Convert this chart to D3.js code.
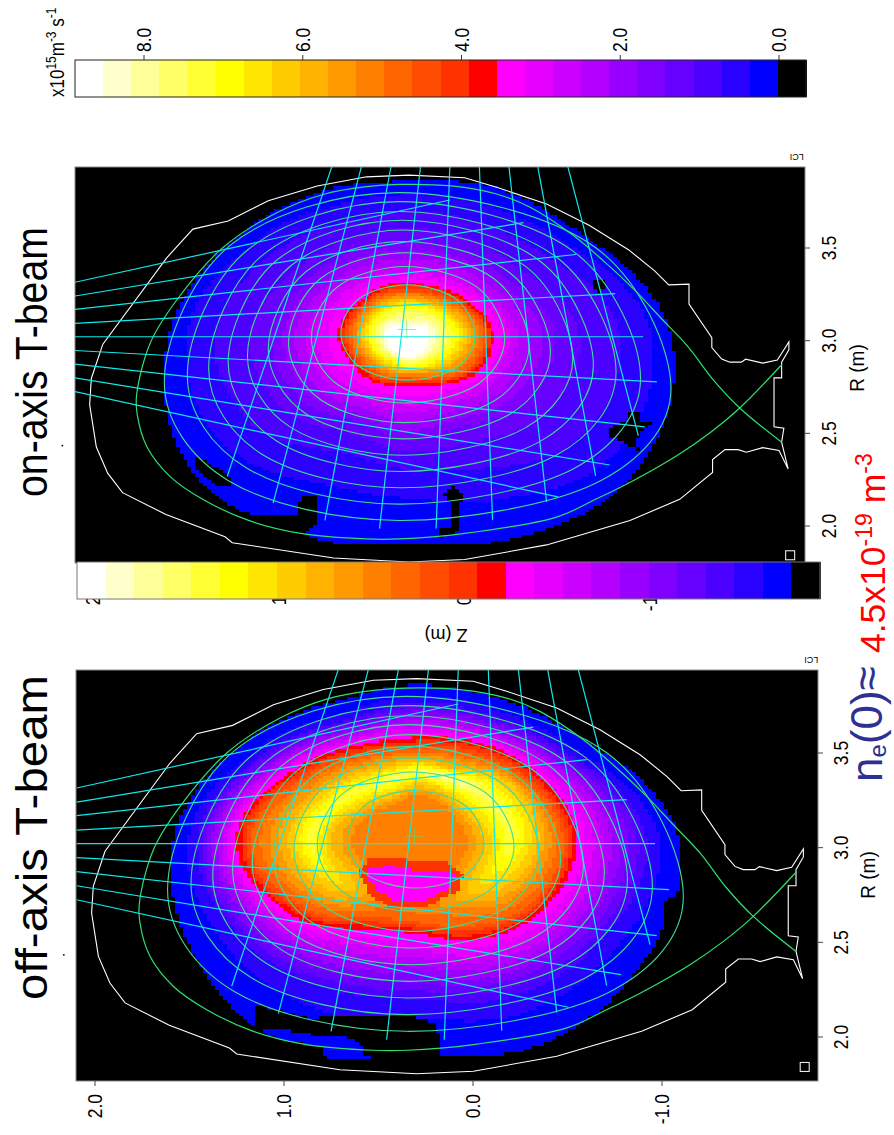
<!DOCTYPE html>
<html><head><meta charset="utf-8">
<style>html,body{margin:0;padding:0;background:#fff}svg{display:block}text{font-family:"Liberation Sans",Arial,sans-serif}</style>
<script src="https://cdn.jsdelivr.net/npm/d3@7"></script>
</head><body><svg id="c" width="894" height="1135"></svg>
<script>
// ---------- colour scale ----------
const bandColors=["#000000","#0000ff","#2a00ff","#4c00ff","#6600ff","#8000ff","#9900ff","#b300ff","#cc00ff","#e600ff","#ff00ff",
"#ff0000","#ff3300","#ff4c00","#ff6600","#ff8000","#ff9900","#ffb300","#ffcc00","#ffe600","#ffff00","#ffff33","#ffff66","#ffff99","#ffffcc","#ffffff"];
const bandStep=0.354;
const barTicks=[0,2,4,6,8];
const zTicks=[2,1,0,-1];
const rTicks=[3.5,3,2.5,2];
// ---------- shared geometry (R,Z in metres) ----------
const axisZ=0.31, axisR=3.05;
const wallRZ=[[2.308,-1.744],[2.408,-1.695],[2.423,-1.607],[2.398,-1.519],[2.412,-1.474],[2.412,-1.404],[2.359,-1.337],[2.289,-1.337],[2.144,-1.160],[2.030,-.892],[1.898,-.443],[1.819,-.002],[1.806,.298],[1.827,.704],[1.910,1.250],[1.942,1.289],[2.062,1.607],[2.180,1.841],[2.285,1.921],[2.426,1.982],[2.655,2.018],[2.796,2.009],[2.981,1.947],[3.447,1.603],[3.602,1.462],[3.646,1.272],[3.755,1.056],[3.835,.792],[3.884,.527],[3.893,.298],[3.879,-.002],[3.826,-.178],[3.738,-.443],[3.623,-.672],[3.491,-.884],[3.377,-1.025],[3.301,-1.101],[3.305,-1.210],[3.197,-1.210],[3.016,-1.333],[2.963,-1.333],[2.901,-1.386],[2.884,-1.430],[2.884,-1.492],[2.900,-1.515],[2.879,-1.607],[2.896,-1.686],[2.993,-1.748],[2.951,-1.748],[2.884,-1.709],[2.799,-1.709],[2.799,-1.668],[2.535,-1.668],[2.528,-1.721],[2.452,-1.709],[2.308,-1.744]];
const lcfsRZ=[[2.452,-1.709],[2.637,-1.483],[2.787,-1.342],[2.972,-1.201],[3.121,-1.060],[3.271,-.919],[3.421,-.760],[3.570,-.584],[3.720,-.354],[3.790,-.178],[3.835,.069],[3.843,.351],[3.831,.527],[3.790,.757],[3.685,1.021],[3.500,1.303],[3.218,1.550],[2.989,1.691],[2.708,1.765],[2.602,1.762],[2.426,1.709],[2.268,1.586],[2.144,1.409],[2.030,1.162],[1.960,.880],[1.930,.527],[1.930,.351],[1.960,-.002],[2.048,-.496],[2.144,-.707],[2.250,-.919],[2.382,-1.148],[2.505,-1.325],[2.637,-1.483],[2.870,-1.709]];
const surface1=[[2.778,1.616],[3.514,1.261],[3.799,.351],[3.504,-.704],[2.743,-1.113],[2.229,-.704],[2.030,.351],[2.239,1.261]];
const surface2=[[2.813,1.492],[3.488,1.169],[3.750,.342],[3.482,-.587],[2.796,-.949],[2.308,-.586],[2.118,.351],[2.313,1.173]];
const surface3=[[2.849,1.377],[3.460,1.088],[3.697,.342],[3.454,-.492],[2.831,-.817],[2.380,-.492],[2.206,.342],[2.386,1.088]];
const surface4=[[2.884,1.272],[3.435,1.009],[3.650,.333],[3.430,-.407],[2.866,-.695],[2.454,-.404],[2.294,.342],[2.459,1.011]];
const surface5=[[2.919,1.168],[3.407,.931],[3.597,.325],[3.401,-.330],[2.901,-.584],[2.528,-.326],[2.382,.333],[2.532,.935]];
const surface6=[[2.954,1.056],[3.373,.852],[3.535,.325],[3.368,-.243],[2.937,-.464],[2.600,-.240],[2.470,.333],[2.606,.854]];
const surface7=[[2.989,.947],[3.338,.771],[3.474,.316],[3.333,-.162],[2.972,-.349],[2.674,-.160],[2.558,.325],[2.680,.772]];
const surface8=[[3.016,.824],[3.292,.681],[3.400,.316],[3.290,-.067],[3.007,-.217],[2.761,-.067],[2.664,.316],[2.762,.681]];
const surface9=[[3.042,.665],[3.229,.564],[3.301,.307],[3.224,.044],[3.025,-.058],[2.854,.044],[2.787,.307],[2.859,.564]];
const surfaces=[surface1,surface2,surface3,surface4,surface5,surface6,surface7,surface8,surface9];
// sight lines: [R0,Z0,R1,Z1]
const fanA=[[3.315,2.097,3.759,.078],[3.241,2.097,3.637,-.319],[3.169,2.097,3.465,-.601],[3.093,2.097,3.254,-.813],[3.021,2.097,3.021,-.963],[2.947,2.097,2.778,-1.037],[2.873,2.097,2.535,-.972],[2.799,2.097,2.329,-.783],[2.725,2.097,2.157,-.504]];
const fanB=[[3.94,.713,2.268,1.277],[3.94,.554,2.123,1.030],[3.94,.395,2.030,.751],[3.94,.236,1.986,.457],[3.94,.078,1.986,.152],[3.94,-.081,2.033,-.152],[3.94,-.240,2.130,-.443],[3.94,-.395,2.271,-.707],[3.94,-.557,2.488,-.937]];
const markerSquare=[1.842,-1.755];
const markerDot=[2.434,2.165];
const lciLabel=[3.988,-1.79];
// ---------- emissivity fields, rings around axis, rays every 30 deg from +Z towards +R ----------
const offRadii=[
[1.287,1.041,.847,.820,.864,1.041,1.393,1.358,1.261,1.129,1.279,1.323],
[1.173,.935,.741,.741,.776,.935,1.243,1.129,.988,.864,.935,1.076],
[.952,.741,.582,.541,.600,.723,.847,.758,.608,.494,.547,.776],
[.873,.670,.520,.485,.529,.653,.776,.688,.529,.432,.476,.697],
[.679,.547,.432,.414,.432,.582,.644,.547,.423,.406,.414,.564],
[.556,.441,.353,.362,.370,.441,.503,.423,.370,.379,.353,.459],
[.450,.335,.273,.291,.300,.309,.353,.317,.300,.300,.282,.353],
[.291,.247,.203,.220,.212,.212,.229,.220,.212,.194,.203,.256]];
const offValues=[
[0,0,0,0,0,0,0,0,0,0,0,0],
[.5,.5,.5,.5,.5,.5,.5,.5,.5,.5,.5,.5],
[3.54,3.54,3.54,3.54,3.54,3.54,3.54,3.54,3.54,3.54,3.54,3.54],
[4.6,4.6,4.6,4.6,4.6,4.6,4.6,4.6,4.6,4.6,4.6,4.6],
[6,6,6,6,6,6,6,5.8,5.2,4.8,5,5.8],
[7.3,7.3,7.5,7.6,8.0,7.6,7.4,6.6,5.6,5.0,5.3,6.4],
[6,6,6.2,6.2,6.3,6.2,6,5.8,5.3,4.8,5,5.8],
[5,5,5,5,5,5,5,5,5,4.8,4.8,5]];
const offCenter=5.3;
const onRadii=[
[1.288,1.054,.890,.820,.910,1.072,1.409,1.441,1.261,1.135,1.252,1.387],
[1.153,.937,.757,.721,.757,.937,1.261,1.225,.937,.793,.811,1.081],
[.775,.631,.559,.523,.559,.631,.829,.775,.613,.604,.577,.721],
[.564,.468,.387,.360,.387,.468,.595,.541,.450,.441,.441,.532],
[.378,.324,.288,.270,.288,.360,.454,.423,.324,.294,.315,.351],
[.324,.279,.243,.225,.243,.310,.400,.369,.279,.243,.267,.297],
[.204,.180,.153,.144,.153,.198,.247,.225,.189,.180,.171,.189],
[.122,.090,.055,.030,.055,.090,.110,.118,.130,.130,.130,.125]];
const onValues=[
[0,0,0,0,0,0,0,0,0,0,0,0],
[.5,.5,.5,.5,.5,.5,.5,.5,.5,.5,.5,.5],
[1.2,1.2,1.2,1.2,1.2,1.2,1.2,1.2,1.2,1.2,1.2,1.2],
[2.4,2.4,2.4,2.4,2.4,2.4,2.4,2.4,2.4,2.4,2.4,2.4],
[3.54,3.54,3.54,3.54,3.54,3.54,3.54,3.54,3.54,3.54,3.54,3.54],
[4.6,4.6,4.6,4.6,4.6,4.6,4.6,4.6,4.6,4.6,4.6,4.6],
[7,7,7,7,7,7,7,7,7,7,7,7],
[8.5,8.5,8.5,8.5,8.5,8.5,8.5,8.5,8.5,8.5,8.5,8.5]];
const onCenter=9.2;
// patches [value, polygon of [Z,R]]
const offPocketRed=[[.616,2.884],[.554,2.954],[.351,2.945],[.139,2.928],[.065,2.866],[.086,2.778],[.263,2.699],[.439,2.690],[.554,2.752]];
const offPocketMagenta=[[.577,2.901],[.439,2.915],[.298,2.884],[.122,2.884],[.104,2.845],[.148,2.787],[.263,2.734],[.422,2.725],[.519,2.787],[.571,2.849]];
const offGap=[[1.162,2.180],[.845,2.100],[.774,2.127],[.333,2.118],[.210,2.083],[.192,2.004],[.183,1.907],[.589,1.916],[.589,1.960],[.695,2.021],[.854,2.021],[1.004,2.048],[1.100,2.048],[1.162,2.067]];
const offBelow=[[1.162,2.067],[1.100,2.026],[1.004,1.979],[.801,1.961],[.801,1.873],[1.409,1.873],[1.409,2.162]];
const offNotch=[[-.993,2.708],[-1.042,2.752],[-1.104,2.752],[-1.104,2.567],[-1.025,2.585],[-.993,2.646]];
const onHoleA=[[1.207,2.079],[1.108,2.070],[.910,2.070],[.910,2.124],[.865,2.178],[.793,2.178],[.793,2.043],[.838,1.989],[.865,1.971],[.793,1.926],[.793,1.854],[1.396,1.854],[1.396,2.160]];
const onHoleB=[[.117,2.178],[.072,2.218],[.013,2.178],[.031,2.124],[.036,2.016],[.054,1.962],[.135,1.953],[.144,1.989],[.090,1.998],[.090,2.124]];
const onHoleC=[[-.667,3.320],[-.694,3.338],[-.748,3.338],[-.751,3.293],[-.712,3.266],[-.685,3.284]];
const onHoleD=[[-.766,2.538],[-.865,2.574],[-.874,2.628],[-.928,2.628],[-.946,2.574],[-1.0,2.565],[-.946,2.520],[-.910,2.448],[-.928,2.421],[-.874,2.430],[-.847,2.466],[-.775,2.484]];
const onHoleE=[[1.468,2.385],[1.288,2.295],[1.252,2.214],[1.351,2.232],[1.459,2.322]];
const offPatches=[[4.2,offPocketRed],[3.3,offPocketMagenta],[0,offGap],[0,offBelow],[0,offNotch]];
const onPatches=[[0,onHoleA],[0,onHoleB],[0,onHoleC],[0,onHoleD],[0,onHoleE]];

// ---------- helpers ----------
const svg=d3.select("#c");
const fmt=d=>d.toFixed(1);
function cr(a,j,t){const n=a.length,p0=a[(j+n-1)%n],p1=a[j%n],p2=a[(j+1)%n],p3=a[(j+2)%n];
 return .5*(2*p1+(p2-p0)*t+(2*p0-5*p1+4*p2-p3)*t*t+(3*p1-p0-3*p2+p3)*t*t*t);}
function field(Z,R,radii,vals,center,patches){
 for(let i=patches.length-1;i>=0;i--){ if(d3.polygonContains(patches[i][1],[Z,R])) return patches[i][0]; }
 const dz=Z-axisZ,dr=R-axisR,r=Math.hypot(dz,dr);
 let th=Math.atan2(dr,dz)*180/Math.PI; if(th<0)th+=360;
 const j=Math.floor(th/30),t=th/30-j;
 let prevR=null,prevV=null;
 for(let k=0;k<radii.length;k++){
  const rk=cr(radii[k],j,t),vk=cr(vals[k],j,t);
  if(r>=rk){ if(k===0) return 0; return vk+(prevV-vk)*(r-rk)/(prevR-rk); }
  prevR=rk;prevV=vk;
 }
 return center+(prevV-center)*r/prevR;
}
function band(v){ if(v<=0) return 0; return Math.min(bandColors.length-1,1+Math.floor(v/bandStep)); }

function panel(o){
 const z=d3.scaleLinear().domain([2,-1]).range(o.zRange);
 const r=d3.scaleLinear().domain([3.5,2]).range(o.rRange);
 const g=svg.append("g");
 const id=o.id;
 svg.append("defs").append("clipPath").attr("id",id).append("rect").attr("x",o.x0).attr("y",o.y0).attr("width",o.x1-o.x0).attr("height",o.y1-o.y0);
 g.append("rect").attr("x",o.x0).attr("y",o.y0).attr("width",o.x1-o.x0).attr("height",o.y1-o.y0).attr("fill","#000").attr("stroke","#8a8a8a").attr("stroke-width",1);
 // cells
 const zs=d3.range(2.0,-1.3,-0.0212), rs=d3.range(3.92,1.85,-0.0174);
 const paths=bandColors.map(()=>[]);
 zs.forEach(Z=>rs.forEach(R=>{
  const b=band(field(Z,R,o.radii,o.vals,o.center,o.patches));
  if(!b) return;
  const x=Math.round(z(Z)),w=Math.round(z(Z-0.0212))-x,y=Math.round(r(R)),h=Math.round(r(R-0.0174))-y;
  paths[b].push(`M${x} ${y}h${w}v${h}h${-w}z`);
 }));
 const gc=g.append("g").attr("clip-path",`url(#${id})`);
 gc.selectAll("path.cell").data(paths).join("path").attr("class","cell").attr("d",d=>d.join("")).attr("fill",(d,i)=>bandColors[i]).attr("shape-rendering","crispEdges");
 const line=d3.line().x(d=>z(d[1])).y(d=>r(d[0]));
 const closed=d3.line().x(d=>z(d[1])).y(d=>r(d[0])).curve(d3.curveCardinalClosed.tension(0));
 const smooth=d3.line().x(d=>z(d[1])).y(d=>r(d[0])).curve(d3.curveCatmullRom.alpha(.5));
 gc.selectAll("path.wall").data([wallRZ]).join("path").attr("class","wall").attr("d",line).attr("fill","none").attr("stroke","#fff").attr("stroke-width",1.1);
 gc.selectAll("path.surf").data(surfaces).join("path").attr("class","surf").attr("d",closed).attr("fill","none").attr("stroke","#3fdc95").attr("stroke-width",1.1);
 gc.append("path").datum(lcfsRZ).attr("d",smooth).attr("fill","none").attr("stroke","#2fe06f").attr("stroke-width",1.2);
 gc.selectAll("line.fan").data(fanA.concat(fanB)).join("line").attr("class","fan")
  .attr("x1",d=>z(d[1])).attr("y1",d=>r(d[0])).attr("x2",d=>z(d[3])).attr("y2",d=>r(d[2]))
  .attr("stroke","#12e8e8").attr("stroke-width",1.2);
 // axis cross
 const ax=z(axisZ), ay=r(axisR+.01);
 gc.append("path").attr("d",`M${ax-9} ${ay}H${ax+9}M${ax} ${ay-9}V${ay+9}`).attr("stroke","#55dd77").attr("stroke-opacity",.6).attr("fill","none");
 // corner square
 gc.append("rect").attr("x",z(markerSquare[1])-4.5).attr("y",r(markerSquare[0])-4.5).attr("width",9).attr("height",9).attr("fill","none").attr("stroke","#fff");
 svg.append("circle").attr("cx",z(markerDot[1])).attr("cy",r(markerDot[0])).attr("r",.9).attr("fill","#000");
 // LCI label
 svg.append("text").attr("transform",`translate(${z(lciLabel[1])},${r(lciLabel[0])}) rotate(180)`).attr("text-anchor","middle").attr("font-size",9).attr("dy","0.35em").text("LCI");
 // ticks
 svg.selectAll(null).data(zTicks).join("line").attr("x1",d=>z(d)).attr("x2",d=>z(d)).attr("y1",o.y1).attr("y2",o.y1+5).attr("stroke","#444");
 svg.selectAll(null).data(rTicks).join("line").attr("y1",d=>r(d)).attr("y2",d=>r(d)).attr("x1",o.x1).attr("x2",o.x1+5).attr("stroke","#444");
 svg.selectAll(null).data(zTicks).join("text").attr("transform",d=>`translate(${z(d)+7},${o.zLabY}) rotate(-90) scale(1,1.18)`).attr("text-anchor","end").attr("font-size",17.5).text(fmt);
 svg.selectAll(null).data(rTicks).join("text").attr("transform",d=>`translate(${o.rLabX},${r(d)}) rotate(-90) scale(1,1.18)`).attr("text-anchor","middle").attr("font-size",17.5).text(fmt);
 svg.append("text").attr("transform",`translate(${o.rTitle[0]},${o.rTitle[1]}) rotate(-90) scale(1,1.1)`).attr("text-anchor","middle").attr("font-size",19).text("R (m)");
}
function bar(o){
 const b=d3.scaleBand().domain(d3.range(bandColors.length).reverse()).range([o.x0,o.x1]);
 svg.selectAll(null).data(b.domain()).join("rect").attr("x",d=>b(d)).attr("y",o.y0).attr("width",b.bandwidth()+.5).attr("height",o.y1-o.y0).attr("fill",d=>bandColors[d]).attr("shape-rendering","crispEdges");
 svg.append("rect").attr("x",o.x0).attr("y",o.y0).attr("width",o.x1-o.x0).attr("height",o.y1-o.y0).attr("fill","none").attr("stroke",o.stroke).attr("stroke-width",1);
}

panel({id:"pB",zRange:[95,662],rRange:[753,1037],x0:76,x1:818,y0:670,y1:1081,radii:offRadii,vals:offValues,center:offCenter,patches:offPatches,zLabY:1094,rLabX:848,rTitle:[875,875]});
panel({id:"pT",zRange:[93,650],rRange:[248,526],x0:75,x1:805,y0:167,y1:563,radii:onRadii,vals:onValues,center:onCenter,patches:onPatches,zLabY:581,rLabX:836,rTitle:[864,368]});

// colour bars
bar({x0:77,x1:820,y0:562,y1:599,stroke:"#777"});
bar({x0:75,x1:806,y0:60,y1:97,stroke:"#222"});
const barX=d3.scaleLinear().domain([0,8]).range([779,144]);
svg.selectAll(null).data(barTicks).join("line").attr("x1",d=>barX(d)).attr("x2",d=>barX(d)).attr("y1",60).attr("y2",55).attr("stroke","#333");
svg.selectAll(null).data(barTicks).join("text").attr("transform",d=>`translate(${barX(d)+7},52) rotate(-90) scale(1,1.18)`).attr("font-size",17.5).text(fmt);
const unit=svg.append("text").attr("transform","translate(64,97) rotate(-90) scale(1,1.15)").attr("font-size",17);
unit.append("tspan").text("x10");
unit.append("tspan").attr("font-size",12).attr("dy",-7).text("15");
unit.append("tspan").attr("dy",7).text("m");
unit.append("tspan").attr("font-size",12).attr("dy",-7).text("-3");
unit.append("tspan").attr("dy",7).text(" s");
unit.append("tspan").attr("font-size",12).attr("dy",-7).text("-1");

svg.append("text").attr("transform","translate(446,635) rotate(180)").attr("text-anchor","middle").attr("dy","0.35em").attr("font-size",18).text("Z (m)");

// titles
svg.append("text").attr("transform","translate(47,1000) rotate(-90)").attr("font-size",44).attr("textLength",325).attr("lengthAdjust","spacingAndGlyphs").text("off-axis T-beam");
svg.append("text").attr("transform","translate(47,497) rotate(-90)").attr("font-size",44).attr("textLength",270).attr("lengthAdjust","spacingAndGlyphs").text("on-axis T-beam");

const ne=svg.append("text").attr("transform","translate(882,782) rotate(-90)").attr("font-size",44).attr("fill","#2e3192");
ne.append("tspan").text("n");
ne.append("tspan").attr("font-size",24).attr("dy",4).text("e");
ne.append("tspan").attr("dy",-4).text("(0)≈");
const nv=svg.append("text").attr("transform","translate(885,653) rotate(-90)").attr("font-size",35.5).attr("fill","#ff0000");
nv.append("tspan").text("4.5x10");
nv.append("tspan").attr("font-size",23).attr("dy",-13).text("-19");
nv.append("tspan").attr("dy",13).text(" m");
nv.append("tspan").attr("font-size",23).attr("dy",-13).text("-3");
</script></body></html>
